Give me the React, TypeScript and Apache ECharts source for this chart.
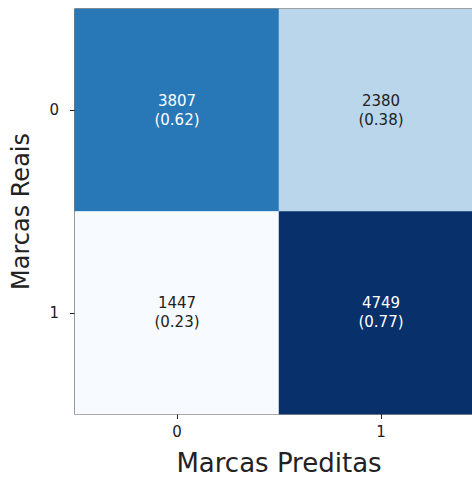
import React, { useEffect, useRef } from "react";
import * as echarts from "echarts";

const predictedLabels = ["0", "1"];
const actualLabels = ["0", "1"];
const counts = [
  [3807, 2380],
  [1447, 4749],
];
const ratios = [
  [0.62, 0.38],
  [0.23, 0.77],
];
const xTitle = "Marcas Preditas";
const yTitle = "Marcas Reais";

export default function App() {
  const ref = useRef<HTMLDivElement>(null);
  useEffect(() => {
    if (!ref.current) return;
    const chart = echarts.init(ref.current, null, { renderer: "svg" });
    const all = counts.flat();
    const threshold = (Math.max(...all) + Math.min(...all)) / 2;
    const data: any[] = [];
    counts.forEach((row, r) =>
      row.forEach((v, c) => {
        data.push({
          value: [c, r, v],
          ratio: ratios[r][c],
          label: { color: v > threshold ? "#ffffff" : "#222222" },
        });
      })
    );
    const font = "DejaVu Sans";
    chart.setOption({
      animation: false,
      backgroundColor: "#ffffff",
      textStyle: { fontFamily: font },
      grid: {
        left: 75,
        top: 9,
        width: 408,
        height: 405,
        show: true,
        borderColor: "#222",
        borderWidth: 1.2,
        backgroundColor: "transparent",
        outerBoundsMode: "none",
        containLabel: false,
      },
      xAxis: {
        type: "category",
        data: predictedLabels,
        name: xTitle,
        nameLocation: "middle",
        nameGap: 36,
        nameTextStyle: { fontSize: 26, color: "#222", fontFamily: font },
        axisLine: { show: false },
        axisTick: { show: true, alignWithLabel: true, length: 5, lineStyle: { color: "#222" } },
        axisLabel: { fontSize: 15, color: "#222", margin: 10, fontFamily: font },
        splitLine: { show: false },
        splitArea: { show: false },
      },
      yAxis: {
        type: "category",
        data: actualLabels,
        inverse: true,
        name: yTitle,
        nameLocation: "middle",
        nameGap: 42,
        nameRotate: 90,
        nameTextStyle: { fontSize: 24, color: "#222", fontFamily: font },
        axisLine: { show: false },
        axisTick: { show: true, alignWithLabel: true, length: 5, lineStyle: { color: "#222" } },
        axisLabel: { fontSize: 15, color: "#222", margin: 16, fontFamily: font },
        splitLine: { show: false },
        splitArea: { show: false },
      },
      visualMap: {
        show: false,
        type: "piecewise",
        dimension: 2,
        pieces: [
          { lt: 2000, color: "#f7fbff" },
          { gte: 2000, lt: 3000, color: "#bad6eb" },
          { gte: 3000, lt: 4200, color: "#2878b8" },
          { gte: 4200, color: "#08306b" },
        ],
      },
      series: [
        {
          type: "heatmap",
          data,
          itemStyle: { borderWidth: 0 },
          emphasis: { disabled: true },
          label: {
            show: true,
            fontSize: 15,
            fontFamily: font,
            lineHeight: 19,
            formatter: (p: any) => `${p.value[2]}\n(${p.data.ratio.toFixed(2)})`,
            color: "#ffffff",
          },
        },
      ],
    });
    return () => chart.dispose();
  }, []);
  return (
    <div
      ref={ref}
      style={{ position: "absolute", left: 0, top: 0, width: 472, height: 479 }}
    />
  );
}
